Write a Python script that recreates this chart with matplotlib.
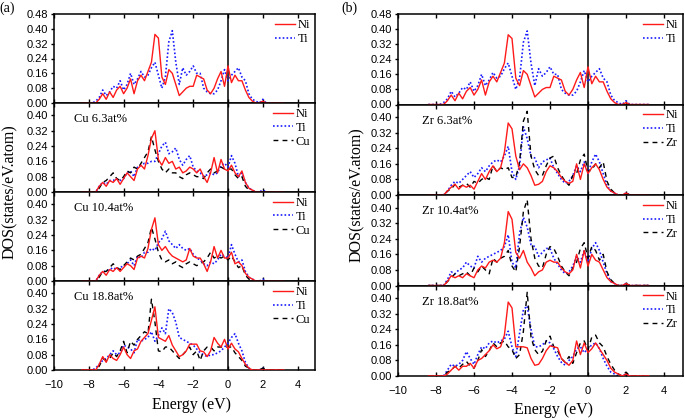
import numpy as np
import matplotlib
matplotlib.use("Agg")
import matplotlib.pyplot as plt

plt.rcParams['font.family'] = 'Liberation Sans'
plt.rcParams['font.size'] = 8
SERIF = 'Liberation Serif'

energy = [-8.4, -8.2, -8.0, -7.8, -7.6, -7.4, -7.2, -7.0, -6.8, -6.6,
          -6.4, -6.2, -6.0, -5.8, -5.6, -5.4, -5.2, -5.0, -4.8, -4.6,
          -4.4, -4.2, -4.0, -3.8, -3.6, -3.4, -3.2, -3.0, -2.8, -2.6,
          -2.4, -2.2, -2.0, -1.8, -1.6, -1.4, -1.2, -1.0, -0.8, -0.6,
          -0.4, -0.2, 0.0, 0.2, 0.4, 0.6, 0.8, 1.0, 1.2, 1.4,
          1.6, 1.8, 2.0, 2.2, 2.4, 2.6, 2.8, 3.0, 3.2]

# pure NiTi (top row of both panels)
ni_niti = [0, 0, 0, 0, 0, 0.02, 0.05, 0.02, 0.06, 0.03,
           0.07, 0.09, 0.05, 0.08, 0.13, 0.05, 0.12, 0.15, 0.12, 0.17,
           0.22, 0.37, 0.35, 0.14, 0.10, 0.18, 0.16, 0.10, 0.04, 0.06,
           0.08, 0.09, 0.09, 0.15, 0.14, 0.13, 0.07, 0.05, 0.08, 0.13,
           0.17, 0.09, 0.20, 0.11, 0.15, 0.12, 0.12, 0.07, 0.03, 0.01,
           0, 0, 0.01, 0, 0, 0, 0, 0, 0]
ti_niti = [0, 0, 0, 0, 0.01, 0.03, 0.07, 0.04, 0.06, 0.09,
           0.08, 0.12, 0.07, 0.10, 0.16, 0.10, 0.13, 0.17, 0.14, 0.15,
           0.19, 0.22, 0.15, 0.08, 0.14, 0.33, 0.39, 0.22, 0.10, 0.19,
           0.15, 0.17, 0.20, 0.16, 0.16, 0.08, 0.06, 0.05, 0.05, 0.07,
           0.12, 0.18, 0.12, 0.15, 0.17, 0.19, 0.14, 0.12, 0.05, 0.02,
           0.01, 0, 0.02, 0, 0, 0, 0, 0, 0]

# Cu doped
ni_cu63 = [0, 0, 0, 0, 0, 0.03, 0.05, 0.03, 0.06, 0.05,
           0.07, 0.04, 0.07, 0.10, 0.08, 0.06, 0.12, 0.14, 0.12, 0.19,
           0.28, 0.32, 0.17, 0.14, 0.18, 0.15, 0.16, 0.12, 0.13, 0.10,
           0.11, 0.13, 0.12, 0.10, 0.12, 0.08, 0.05, 0.10, 0.18, 0.10,
           0.17, 0.12, 0.11, 0.14, 0.10, 0.08, 0.11, 0.05, 0.02, 0.01,
           0, 0, 0, 0, 0, 0, 0, 0, 0]
ti_cu63 = [0, 0, 0, 0, 0, 0.03, 0.05, 0.04, 0.06, 0.06,
           0.07, 0.06, 0.07, 0.10, 0.11, 0.08, 0.13, 0.14, 0.15, 0.15,
           0.16, 0.16, 0.20, 0.24, 0.26, 0.20, 0.21, 0.23, 0.17, 0.14,
           0.17, 0.19, 0.13, 0.11, 0.10, 0.08, 0.09, 0.10, 0.09, 0.10,
           0.14, 0.15, 0.13, 0.19, 0.15, 0.08, 0.10, 0.05, 0.02, 0.01,
           0, 0, 0.01, 0, 0, 0, 0, 0, 0]
cu_cu63 = [0, 0, 0, 0, 0, 0.02, 0.05, 0.06, 0.08, 0.10,
           0.07, 0.06, 0.08, 0.11, 0.10, 0.13, 0.12, 0.15, 0.18, 0.21,
           0.29, 0.22, 0.16, 0.12, 0.10, 0.12, 0.10, 0.10, 0.08, 0.07,
           0.09, 0.10, 0.09, 0.08, 0.08, 0.07, 0.10, 0.12, 0.10, 0.11,
           0.13, 0.12, 0.12, 0.12, 0.09, 0.07, 0.08, 0.03, 0.01, 0,
           0, 0, 0, 0, 0, 0, 0, 0, 0]

ni_cu104 = [0, 0, 0, 0, 0, 0.03, 0.05, 0.03, 0.06, 0.05,
            0.07, 0.05, 0.07, 0.09, 0.08, 0.06, 0.12, 0.13, 0.12, 0.17,
            0.27, 0.33, 0.19, 0.16, 0.18, 0.15, 0.13, 0.12, 0.11, 0.10,
            0.11, 0.17, 0.13, 0.12, 0.12, 0.09, 0.05, 0.10, 0.18, 0.12,
            0.16, 0.12, 0.12, 0.15, 0.09, 0.10, 0.08, 0.04, 0.02, 0.01,
            0, 0, 0, 0, 0, 0, 0, 0, 0]
ti_cu104 = [0, 0, 0, 0, 0, 0.03, 0.05, 0.05, 0.06, 0.07,
            0.06, 0.07, 0.08, 0.09, 0.11, 0.08, 0.13, 0.12, 0.15, 0.15,
            0.17, 0.16, 0.20, 0.22, 0.26, 0.21, 0.19, 0.17, 0.19, 0.17,
            0.16, 0.17, 0.14, 0.12, 0.11, 0.09, 0.08, 0.10, 0.09, 0.11,
            0.14, 0.13, 0.12, 0.19, 0.14, 0.10, 0.11, 0.05, 0.02, 0.01,
            0, 0, 0.01, 0, 0, 0, 0, 0, 0]
cu_cu104 = [0, 0, 0, 0, 0, 0.02, 0.05, 0.05, 0.07, 0.09,
            0.07, 0.06, 0.08, 0.10, 0.12, 0.11, 0.13, 0.14, 0.17, 0.20,
            0.28, 0.22, 0.15, 0.11, 0.10, 0.11, 0.09, 0.10, 0.08, 0.07,
            0.09, 0.10, 0.09, 0.08, 0.09, 0.10, 0.12, 0.15, 0.12, 0.13,
            0.12, 0.13, 0.11, 0.13, 0.10, 0.07, 0.08, 0.03, 0.01, 0,
            0, 0, 0, 0, 0, 0, 0, 0, 0]

ni_cu188 = [0, 0, 0, 0, 0, 0.03, 0.07, 0.04, 0.08, 0.06,
            0.05, 0.08, 0.12, 0.08, 0.06, 0.10, 0.11, 0.15, 0.17, 0.19,
            0.26, 0.33, 0.17, 0.16, 0.15, 0.18, 0.13, 0.10, 0.07, 0.08,
            0.10, 0.135, 0.135, 0.135, 0.10, 0.095, 0.07, 0.10, 0.17, 0.14,
            0.12, 0.16, 0.11, 0.14, 0.11, 0.095, 0.06, 0.03, 0.01, 0,
            0, 0, 0, 0, 0, 0, 0, 0, 0]
ti_cu188 = [0, 0, 0, 0, 0.01, 0.03, 0.05, 0.06, 0.08, 0.10,
            0.08, 0.09, 0.13, 0.12, 0.11, 0.09, 0.16, 0.15, 0.16, 0.17,
            0.20, 0.15, 0.18, 0.22, 0.19, 0.32, 0.30, 0.25, 0.17, 0.16,
            0.15, 0.14, 0.13, 0.11, 0.09, 0.08, 0.07, 0.08, 0.08, 0.09,
            0.10, 0.12, 0.14, 0.17, 0.19, 0.14, 0.10, 0.04, 0.01, 0,
            0, 0, 0.01, 0, 0, 0, 0, 0, 0]
cu_cu188 = [0, 0, 0, 0, 0, 0.02, 0.06, 0.05, 0.06, 0.09,
            0.07, 0.10, 0.15, 0.09, 0.15, 0.13, 0.16, 0.18, 0.20, 0.19,
            0.37, 0.25, 0.10, 0.095, 0.12, 0.12, 0.10, 0.08, 0.06, 0.08,
            0.10, 0.12, 0.08, 0.10, 0.05, 0.10, 0.12, 0.12, 0.10, 0.12,
            0.12, 0.12, 0.12, 0.12, 0.09, 0.07, 0.05, 0.02, 0.01, 0,
            0, 0, 0.01, 0, 0, 0, 0, 0, 0]

# Zr doped
ni_zr63 = [0, 0, 0, 0, 0, 0.02, 0.04, 0.055, 0.03, 0.05,
           0.04, 0.05, 0.03, 0.07, 0.11, 0.08, 0.12, 0.15, 0.12, 0.14,
           0.22, 0.37, 0.34, 0.20, 0.13, 0.16, 0.14, 0.10, 0.05, 0.055,
           0.07, 0.12, 0.15, 0.14, 0.12, 0.09, 0.07, 0.06, 0.07, 0.16,
           0.08, 0.16, 0.11, 0.14, 0.16, 0.13, 0.08, 0.04, 0.02, 0.01,
           0, 0, 0.01, 0, 0, 0, 0, 0, 0]
ti_zr63 = [0, 0, 0, 0, 0, 0.02, 0.05, 0.07, 0.06, 0.08,
           0.10, 0.12, 0.09, 0.11, 0.14, 0.12, 0.15, 0.17, 0.18, 0.17,
           0.20, 0.25, 0.12, 0.08, 0.15, 0.35, 0.29, 0.20, 0.19, 0.14,
           0.17, 0.18, 0.19, 0.14, 0.11, 0.08, 0.06, 0.07, 0.10, 0.15,
           0.12, 0.17, 0.11, 0.17, 0.21, 0.17, 0.11, 0.05, 0.02, 0.01,
           0, 0, 0.01, 0, 0, 0, 0, 0, 0]
zr_zr63 = [0, 0, 0, 0, 0, 0.02, 0.03, 0.055, 0.04, 0.05,
           0.06, 0.04, 0.07, 0.06, 0.08, 0.09, 0.08, 0.15, 0.12, 0.14,
           0.13, 0.14, 0.09, 0.09, 0.17, 0.38, 0.43, 0.20, 0.13, 0.10,
           0.10, 0.15, 0.19, 0.20, 0.14, 0.10, 0.07, 0.05, 0.10, 0.11,
           0.18, 0.21, 0.12, 0.13, 0.16, 0.14, 0.17, 0.07, 0.03, 0.01,
           0, 0, 0.01, 0, 0, 0, 0, 0, 0]

ni_zr104 = [0, 0, 0, 0, 0, 0.02, 0.05, 0.04, 0.05, 0.04,
            0.06, 0.05, 0.04, 0.08, 0.10, 0.09, 0.12, 0.13, 0.12, 0.14,
            0.22, 0.38, 0.34, 0.17, 0.14, 0.18, 0.12, 0.09, 0.05, 0.07,
            0.08, 0.12, 0.13, 0.12, 0.12, 0.09, 0.07, 0.06, 0.08, 0.16,
            0.09, 0.18, 0.10, 0.16, 0.13, 0.12, 0.08, 0.04, 0.02, 0.01,
            0, 0, 0.01, 0, 0, 0, 0, 0, 0]
ti_zr104 = [0, 0, 0, 0, 0, 0.03, 0.07, 0.06, 0.08, 0.09,
            0.12, 0.10, 0.09, 0.15, 0.12, 0.14, 0.15, 0.16, 0.17, 0.18,
            0.20, 0.26, 0.12, 0.09, 0.27, 0.35, 0.30, 0.21, 0.20, 0.15,
            0.17, 0.19, 0.19, 0.14, 0.11, 0.08, 0.06, 0.07, 0.10, 0.15,
            0.12, 0.18, 0.12, 0.19, 0.22, 0.18, 0.12, 0.06, 0.02, 0.01,
            0, 0, 0.01, 0, 0, 0, 0, 0, 0]
zr_zr104 = [0, 0, 0, 0, 0, 0.02, 0.04, 0.06, 0.05, 0.06,
            0.07, 0.05, 0.09, 0.07, 0.10, 0.08, 0.06, 0.14, 0.12, 0.14,
            0.15, 0.18, 0.10, 0.07, 0.20, 0.38, 0.44, 0.24, 0.14, 0.10,
            0.09, 0.16, 0.20, 0.19, 0.15, 0.10, 0.07, 0.05, 0.09, 0.12,
            0.19, 0.22, 0.14, 0.20, 0.18, 0.13, 0.16, 0.07, 0.03, 0.01,
            0, 0, 0.01, 0, 0, 0, 0, 0, 0]

ni_zr188 = [0, 0, 0, 0, 0, 0.01, 0.03, 0.05, 0.03, 0.05,
            0.05, 0.065, 0.04, 0.08, 0.09, 0.11, 0.13, 0.16, 0.14, 0.15,
            0.21, 0.38, 0.35, 0.15, 0.15, 0.15, 0.145, 0.09, 0.055, 0.06,
            0.09, 0.13, 0.155, 0.15, 0.145, 0.09, 0.07, 0.055, 0.08, 0.18,
            0.11, 0.17, 0.12, 0.14, 0.17, 0.14, 0.11, 0.08, 0.04, 0.02,
            0.01, 0, 0.01, 0, 0, 0, 0, 0, 0]
ti_zr188 = [0, 0, 0, 0, 0, 0.03, 0.06, 0.05, 0.06, 0.08,
            0.125, 0.09, 0.06, 0.11, 0.15, 0.14, 0.17, 0.18, 0.17, 0.18,
            0.19, 0.23, 0.15, 0.10, 0.22, 0.34, 0.36, 0.24, 0.15, 0.15,
            0.16, 0.18, 0.17, 0.14, 0.10, 0.07, 0.055, 0.08, 0.10, 0.14,
            0.15, 0.12, 0.14, 0.16, 0.17, 0.14, 0.09, 0.05, 0.02, 0.01,
            0, 0, 0.01, 0, 0, 0, 0, 0, 0]
zr_zr188 = [0, 0, 0, 0, 0, 0.02, 0.03, 0.05, 0.04, 0.06,
            0.075, 0.05, 0.04, 0.08, 0.135, 0.10, 0.13, 0.17, 0.15, 0.17,
            0.18, 0.15, 0.135, 0.09, 0.11, 0.23, 0.43, 0.20, 0.135, 0.11,
            0.127, 0.18, 0.205, 0.15, 0.13, 0.09, 0.07, 0.10, 0.065, 0.12,
            0.17, 0.18, 0.135, 0.20, 0.21, 0.17, 0.15, 0.10, 0.06, 0.03,
            0.01, 0, 0.02, 0, 0, 0, 0, 0, 0]

cu_labels = ['', 'Cu 6.3at%', 'Cu 10.4at%', 'Cu 18.8at%']
zr_labels = ['', 'Zr 6.3at%', 'Zr 10.4at%', 'Zr 18.8at%']
panel_a = [(ni_niti, ti_niti, None), (ni_cu63, ti_cu63, cu_cu63),
           (ni_cu104, ti_cu104, cu_cu104), (ni_cu188, ti_cu188, cu_cu188)]
panel_b = [(ni_niti, ti_niti, None), (ni_zr63, ti_zr63, zr_zr63),
           (ni_zr104, ti_zr104, zr_zr104), (ni_zr188, ti_zr188, zr_zr188)]

W, H = 685, 420
fig = plt.figure(figsize=(W / 100, H / 100), dpi=100)


def draw_panel(left, right, top, row_h, rows, labels, third, tx):
    for i, (ni, ti, x3) in enumerate(rows):
        y0 = top + (i + 1) * row_h
        ax = fig.add_axes([left / W, 1 - y0 / H, (right - left) / W, row_h / H])
        ax.axvline(0, color='k', lw=1.1, zorder=1)
        ax.plot(energy, ni, color='#ff1a1a', lw=1.0, label='Ni', zorder=3)
        ax.plot(energy, ti, color='#1a1aff', lw=1.2, ls=(0, (1, 1.3)), label='Ti', zorder=2)
        if x3 is not None:
            ax.plot(energy, x3, color='k', lw=1.0, ls=(0, (3.5, 3)), label=third, zorder=2)
        ax.set_xlim(-10, 5)
        ax.set_xticks([-10, -8, -6, -4, -2, 0, 2, 4])
        if i == 0:
            ax.set_ylim(0, 0.48)
            ax.set_yticks([0, 0.08, 0.16, 0.24, 0.32, 0.40, 0.48])
        else:
            ax.set_ylim(0, 0.465)
            ax.set_yticks([0, 0.08, 0.16, 0.24, 0.32, 0.40])
        ax.yaxis.set_major_formatter(matplotlib.ticker.FormatStrFormatter('%.2f'))
        ax.tick_params(axis='x', direction='in', top=True, length=3, width=1, pad=7)
        ax.tick_params(axis='y', direction='out', length=2.5, width=1, pad=1.5)
        if i < 3:
            ax.tick_params(axis='x', labelbottom=False)
        for s in ax.spines.values():
            s.set_linewidth(1.1)
        ax.legend(loc='upper right', frameon=False, handlelength=1.6,
                  handletextpad=0.2, labelspacing=0.15, borderaxespad=0.1,
                  borderpad=0.3, prop={'family': SERIF, 'size': 9})
        if labels[i]:
            ax.text(tx, 0.82, labels[i], transform=ax.transAxes, family=SERIF,
                    fontsize=9, va='center', ha='left')


draw_panel(54, 315, 14, 89, panel_a, cu_labels, 'Cu', 0.075)
draw_panel(398, 683, 14, 90.5, panel_b, zr_labels, 'Zr', 0.085)

fig.text(10 / W, 1 - 192 / H, 'DOS(states/eV.atom)', rotation=90, family=SERIF,
         fontsize=11.5, ha='center', va='center')
fig.text(357 / W, 1 - 195 / H, 'DOS(states/eV.atom)', rotation=90, family=SERIF,
         fontsize=11.5, ha='center', va='center')
fig.text(191 / W, 1 - 405 / H, 'Energy (eV)', family=SERIF, fontsize=11.5,
         ha='center', va='center')
fig.text(553 / W, 1 - 410 / H, 'Energy (eV)', family=SERIF, fontsize=11.5,
         ha='center', va='center')
fig.text(7 / W, 1 - 8 / H, '(a)', family=SERIF, fontsize=10, ha='center', va='center')
fig.text(349 / W, 1 - 8 / H, '(b)', family=SERIF, fontsize=10, ha='center', va='center')

fig.savefig('out.png', dpi=100)
